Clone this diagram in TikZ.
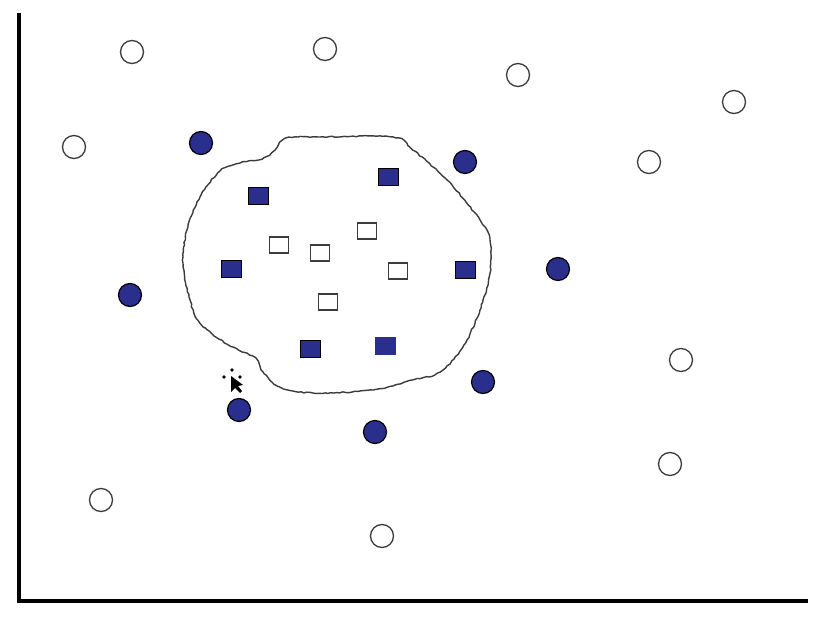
\documentclass[tikz,border=0pt]{standalone}
\usetikzlibrary{decorations.pathmorphing}
\definecolor{navy}{RGB}{42,46,140}
\definecolor{edge}{RGB}{60,60,60}
\begin{document}
\begin{tikzpicture}[x=1pt,y=-1pt,
  fullc/.style={circle,draw=black,fill=navy,line width=1.2pt,minimum size=23pt,inner sep=0pt},
  openc/.style={circle,draw=edge,fill=white,line width=1.3pt,minimum size=23pt,inner sep=0pt},
  fulls/.style={rectangle,draw=black,fill=navy,line width=1pt,minimum width=20pt,minimum height=17pt,inner sep=0pt},
  opens/.style={rectangle,draw=edge,fill=white,line width=1.3pt,minimum width=19pt,minimum height=16pt,inner sep=0pt},
  axis/.style={line width=3.5pt,black},
  blob/.style={draw=edge,line width=1.4pt}]
\useasboundingbox (0,0) rectangle (824,620);
\fill[white] (0,0) rectangle (824,620);
% axes
\coordinate (top) at (19,13);
\coordinate (origin) at (19,601);
\coordinate (right) at (808,601);
\draw[axis] (top) -- (origin) -- (right);
% blob
\draw[blob,decorate,decoration={random steps,segment length=3pt,amplitude=0.6pt}]
  plot[smooth cycle,tension=0.55] coordinates {
  (286,138) (320,137) (393,137) (413,150) (447,180) (480,220) (490,240)
  (490,273) (480,310) (463,347) (440,372) (413,380) (373,390) (313,393)
  (280,387) (263,372) (255,358) (227,344) (200,323) (189,297) (183,263)
  (187,230) (200,197) (220,171) (240,163) (262,159) (275,150)};
% squares inside
\node[fulls] (s1) at (258,196) {};
\node[fulls] (s2) at (388,177) {};
\node[fulls] (s3) at (231,269) {};
\node[fulls] (s4) at (465,270) {};
\node[fulls] (s5) at (310,349) {};
\node[fulls,draw=navy] (s6) at (385,346) {};
\node[opens] (o1) at (279,245) {};
\node[opens] (o2) at (320,253) {};
\node[opens] (o3) at (367,231) {};
\node[opens] (o4) at (398,271) {};
\node[opens] (o5) at (328,302) {};
% filled circles
\node[fullc] (c1) at (201,143) {};
\node[fullc] (c2) at (465,162) {};
\node[fullc] (c3) at (130,295) {};
\node[fullc] (c4) at (558,269) {};
\node[fullc] (c5) at (239,410) {};
\node[fullc] (c6) at (483,382) {};
\node[fullc] (c7) at (375,432) {};
% open circles
\node[openc] (e1) at (132,52) {};
\node[openc] (e2) at (325,49) {};
\node[openc] (e3) at (518,75) {};
\node[openc] (e4) at (734,102) {};
\node[openc] (e5) at (74,147) {};
\node[openc] (e6) at (649,162) {};
\node[openc] (e7) at (681,360) {};
\node[openc] (e8) at (670,464) {};
\node[openc] (e9) at (101,500) {};
\node[openc] (e10) at (382,536) {};
% move cursor
\fill[black] (232,370) circle (1.8pt) (224,377) circle (1.8pt) (240,377) circle (1.8pt);
\fill[black] (231,376) -- (231,392) -- (235,388) -- (240,393) -- (242,391) -- (238,386) -- (243,385) -- cycle;
\end{tikzpicture}
\end{document}
